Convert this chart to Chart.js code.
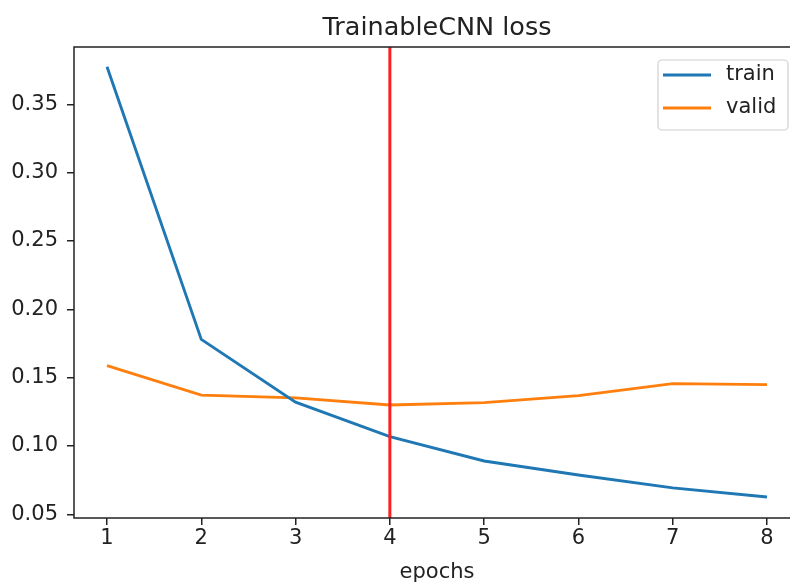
<!DOCTYPE html>
<html>
<head>
<meta charset="utf-8">
<script src="https://cdn.jsdelivr.net/npm/chart.js@4"></script>
<style>
  html, body { margin: 0; padding: 0; background: #fff; overflow: hidden; }
  #wrap { width: 810px; height: 583px; }
</style>
</head>
<body>
<div id="wrap"><canvas id="chart" width="810" height="583"></canvas></div>
<script>
// values
const epochs = [1, 2, 3, 4, 5, 6, 7, 8];
const trainLoss = [0.3775, 0.178, 0.132, 0.1068, 0.089, 0.0788, 0.0693, 0.0627];
const validLoss = [0.1588, 0.1372, 0.1352, 0.1300, 0.1317, 0.1368, 0.1456, 0.1449];
const yTicks = [0.05, 0.10, 0.15, 0.20, 0.25, 0.30, 0.35];
const markerEpoch = 4;
const xMin = 0.65, xMax = 8.35;
const yMin = 0.0473, yMax = 0.3919;

const FONT = "'DejaVu Sans', sans-serif";
const TEXT = "#222";

// top/right spines + matplotlib style legend box
const frameAndLegend = {
  id: "frameAndLegend",
  afterDatasetsDraw(chart) {
    const { ctx, chartArea: a } = chart;
    ctx.save();
    ctx.strokeStyle = "#222";
    ctx.lineWidth = 1.5;
    ctx.strokeRect(a.left, a.top, a.right - a.left, a.bottom - a.top);
    ctx.restore();
  },
  afterDraw(chart) {
    const { ctx, chartArea: a } = chart;
    const sets = chart.data.datasets.filter(d => d.inLegend);
    const bx = a.right - 142, by = a.top + 13, bw = 130, bh = 70;
    ctx.save();
    ctx.fillStyle = "rgba(255,255,255,0.8)";
    ctx.strokeStyle = "#d0d0d0";
    ctx.lineWidth = 1.2;
    ctx.beginPath();
    ctx.roundRect(bx, by, bw, bh, 4);
    ctx.fill();
    ctx.stroke();
    ctx.font = "21px " + FONT;
    ctx.textBaseline = "middle";
    ctx.fillStyle = TEXT;
    sets.forEach((d, i) => {
      const y = by + 15 + i * 33;
      ctx.strokeStyle = d.borderColor;
      ctx.lineWidth = d.borderWidth;
      ctx.beginPath();
      ctx.moveTo(bx + 5, y);
      ctx.lineTo(bx + 53, y);
      ctx.stroke();
      ctx.fillText(d.label, bx + 68, y);
    });
    ctx.restore();
  }
};

new Chart(document.getElementById("chart"), {
  type: "line",
  data: {
    datasets: [
      {
        label: "marker",
        data: [{ x: markerEpoch, y: yMin }, { x: markerEpoch, y: yMax }],
        borderColor: "#ff2020",
        borderWidth: 3,
        pointRadius: 0,
        order: -1,
      },
      {
        label: "train",
        inLegend: true,
        data: epochs.map((e, i) => ({ x: e, y: trainLoss[i] })),
        borderColor: "#1f77b4",
        borderWidth: 2.9,
        pointRadius: 0,
        tension: 0,
      },
      {
        label: "valid",
        inLegend: true,
        data: epochs.map((e, i) => ({ x: e, y: validLoss[i] })),
        borderColor: "#ff7f0e",
        borderWidth: 2.9,
        pointRadius: 0,
        tension: 0,
      },
    ],
  },
  options: {
    responsive: false,
    animation: false,
    devicePixelRatio: 1,
    layout: { padding: { top: 0, right: 10, bottom: 0, left: 0 } },
    plugins: {
      legend: { display: false },
      tooltip: { enabled: false },
      title: {
        display: true,
        text: "TrainableCNN loss",
        fullSize: false,
        color: TEXT,
        font: { family: FONT, size: 25.5, weight: "normal", lineHeight: 1.2 },
        padding: { top: 13, bottom: 3.4 },
      },
    },
    scales: {
      x: {
        type: "linear",
        min: xMin,
        max: xMax,
        afterBuildTicks: (s) => { s.ticks = epochs.map(v => ({ value: v })); },
        afterFit: (s) => { s.height = 65; },
        border: { display: false },
        grid: { drawOnChartArea: false, drawTicks: true, tickLength: 7, tickColor: "#222", lineWidth: 1.5 },
        ticks: { color: TEXT, font: { family: FONT, size: 21 }, padding: 1, maxRotation: 0, callback: v => String(v) },
        title: { display: true, text: "epochs", color: TEXT, font: { family: FONT, size: 21, lineHeight: 1 }, padding: { top: 0, bottom: 0 } },
      },
      y: {
        min: yMin,
        max: yMax,
        afterBuildTicks: (s) => { s.ticks = yTicks.map(v => ({ value: v })); },
        afterFit: (s) => { s.width = 74; },
        border: { display: false },
        grid: { drawOnChartArea: false, drawTicks: true, tickLength: 7, tickColor: "#222", lineWidth: 1.5 },
        ticks: { color: TEXT, font: { family: FONT, size: 21 }, padding: 9, callback: v => Number(v).toFixed(2) },
      },
    },
  },
  plugins: [frameAndLegend],
});
</script>
</body>
</html>
